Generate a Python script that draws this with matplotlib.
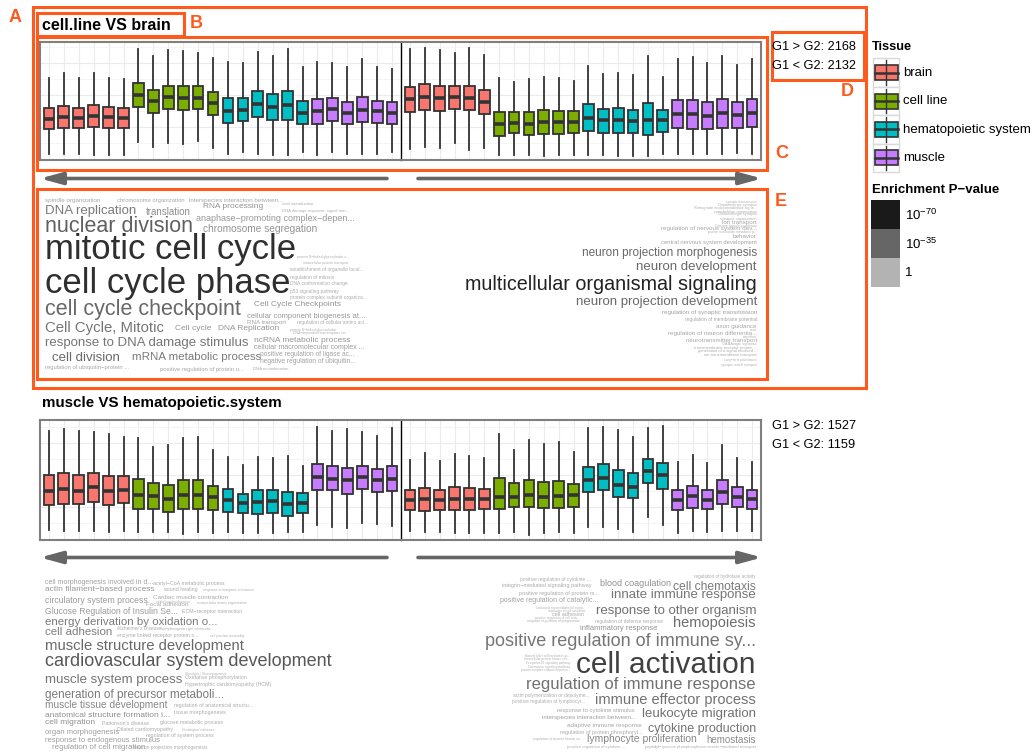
import matplotlib.pyplot as plt
from matplotlib.patches import Rectangle
from matplotlib.colors import LinearSegmentedColormap

plt.rcParams['font.family'] = ['Liberation Sans', 'DejaVu Sans']
plt.rcParams['mathtext.fontset'] = 'custom'
plt.rcParams['mathtext.rm'] = 'Liberation Sans'

# ---- data -------------------------------------------------------------
TISSUES = ['brain', 'cell line', 'hematopoietic system', 'muscle']
TISSUE_COLORS = ['#F8766D', '#7CAE00', '#00BFC4', '#C77CFF']
SAMPLES_PER_TISSUE = 6

# box stats per sample: (whisker low, q1, median, q3, whisker high)
CL_BRAIN_UP = [
    (0.6, 3.1, 4.1, 5.2, 8.2), (0.6, 3.2, 4.3, 5.4, 8.7), (0.6, 3.2, 4.2, 5.2, 8.2),
    (0.5, 3.3, 4.4, 5.5, 8.7), (0.5, 3.2, 4.3, 5.3, 8.2), (0.5, 3.2, 4.2, 5.2, 8.1),
    (1.8, 5.3, 6.5, 7.7, 11.1), (1.3, 4.7, 5.9, 7.0, 10.4), (1.7, 5.1, 6.3, 7.4, 11.0),
    (1.6, 5.0, 6.2, 7.4, 10.9), (1.9, 5.1, 6.2, 7.4, 10.7), (1.2, 4.5, 5.7, 6.8, 10.2),
    (0.6, 3.7, 4.9, 6.2, 9.8), (0.8, 3.9, 5.0, 6.2, 9.7), (0.6, 4.3, 5.6, 6.9, 10.8),
    (0.5, 4.0, 5.3, 6.6, 10.4), (0.5, 4.0, 5.5, 6.9, 11.1), (0.8, 3.6, 4.7, 5.9, 9.3),
    (0.5, 3.6, 4.9, 6.1, 9.8), (0.8, 3.9, 5.1, 6.2, 9.7), (0.6, 3.6, 4.7, 5.8, 9.3),
    (0.6, 3.8, 5.0, 6.3, 10.1), (0.6, 3.7, 4.9, 5.9, 9.3), (0.8, 3.6, 4.7, 5.8, 9.1),
]
CL_BRAIN_DOWN = [
    (1.1, 4.8, 6.1, 7.3, 11.1), (1.3, 5.0, 6.3, 7.6, 11.2), (1.2, 4.9, 6.2, 7.4, 11.0),
    (1.7, 5.1, 6.3, 7.4, 10.7), (1.0, 5.0, 6.2, 7.4, 11.2), (1.2, 4.6, 5.8, 7.0, 10.5),
    (0.5, 2.4, 3.6, 4.8, 8.2), (0.5, 2.7, 3.7, 4.8, 7.8), (0.5, 2.5, 3.6, 4.8, 8.1),
    (0.4, 2.6, 3.8, 5.0, 8.3), (0.5, 2.6, 3.8, 4.9, 8.2), (0.5, 2.7, 3.8, 4.9, 7.9),
    (0.5, 2.9, 4.2, 5.6, 9.4), (0.5, 2.7, 4.0, 5.1, 8.6), (0.4, 2.7, 4.0, 5.2, 8.7),
    (0.4, 2.7, 3.9, 5.0, 8.5), (0.4, 2.5, 4.0, 5.7, 10.4), (0.6, 2.8, 4.0, 5.0, 8.3),
    (0.6, 3.2, 4.6, 6.0, 10.1), (0.6, 3.1, 4.6, 6.0, 10.3), (0.6, 3.1, 4.4, 5.8, 9.7),
    (0.6, 3.2, 4.7, 6.1, 10.4), (0.7, 3.2, 4.5, 5.8, 9.5), (0.6, 3.3, 4.7, 6.1, 10.1),
]
MU_HEMA_UP = [
    (1.0, 3.5, 4.9, 6.5, 10.9), (0.9, 3.6, 5.1, 6.7, 11.1), (0.9, 3.6, 4.9, 6.5, 10.9),
    (0.9, 3.8, 5.3, 6.7, 10.8), (0.8, 3.5, 4.9, 6.4, 10.6), (0.9, 3.7, 5.0, 6.4, 10.3),
    (0.8, 3.1, 4.5, 6.1, 10.2), (0.8, 3.1, 4.4, 5.7, 9.3), (0.8, 2.8, 4.1, 5.5, 9.5),
    (0.6, 3.1, 4.5, 6.0, 10.2), (0.8, 3.1, 4.5, 6.0, 10.3), (0.7, 3.0, 4.3, 5.4, 9.0),
    (0.8, 2.8, 4.0, 5.1, 8.3), (0.7, 2.7, 3.7, 4.6, 7.5), (0.7, 2.6, 3.8, 5.0, 8.3),
    (0.7, 2.7, 3.9, 5.0, 8.2), (0.8, 2.4, 3.6, 4.8, 8.4), (0.8, 2.7, 3.7, 4.7, 7.4),
    (1.5, 5.0, 6.3, 7.6, 11.3), (1.3, 5.0, 6.1, 7.4, 10.9), (1.2, 4.6, 6.0, 7.2, 11.1),
    (1.7, 5.1, 6.3, 7.4, 10.8), (1.6, 4.8, 6.0, 7.1, 10.4), (1.4, 4.9, 6.1, 7.4, 11.2),
]
MU_HEMA_DOWN = [
    (0.9, 3.0, 4.0, 5.0, 8.0), (0.8, 2.9, 4.1, 5.2, 8.7), (0.8, 3.0, 4.0, 5.0, 7.9),
    (0.7, 3.0, 4.1, 5.3, 8.6), (0.7, 3.0, 4.1, 5.2, 8.4), (0.7, 3.1, 4.1, 5.1, 8.2),
    (0.7, 3.1, 4.3, 6.2, 10.6), (0.8, 3.3, 4.3, 5.7, 9.0), (0.5, 3.3, 4.5, 6.0, 10.0),
    (0.7, 3.2, 4.3, 5.8, 9.6), (0.8, 3.2, 4.4, 5.9, 9.8), (0.7, 3.3, 4.5, 5.6, 8.8),
    (1.3, 4.8, 6.0, 7.3, 11.2), (1.3, 5.0, 6.2, 7.6, 11.3), (1.1, 4.3, 5.5, 7.0, 11.0),
    (0.8, 4.2, 5.3, 6.7, 10.3), (2.3, 5.7, 6.9, 8.1, 11.2), (1.5, 5.1, 6.5, 7.7, 11.4),
    (0.7, 3.0, 4.0, 5.0, 7.8), (0.9, 3.2, 4.4, 5.4, 8.5), (0.8, 3.1, 4.0, 5.0, 7.7),
    (0.9, 3.6, 4.8, 6.0, 9.5), (0.9, 3.3, 4.3, 5.3, 8.2), (0.9, 3.1, 4.1, 5.0, 7.8),
]

COMPARISONS = ['cell.line VS brain', 'muscle VS hematopoietic.system']
N_UP = [2168, 1527]
N_DOWN = [2132, 1159]

# word clouds: term, gene count (font size), -log10 enrichment p-value
TL_TERMS = ["spindle organization", "chromosome organization", "interspecies interaction between...",
            "viral reproduction", "RNA processing", "DNA replication", "translation",
            "DNA damage response, signal tran...", "anaphase−promoting complex−depen...",
            "nuclear division", "chromosome segregation", "mitotic cell cycle",
            "protein N−linked glycosylation v...", "intracellular protein transport",
            "establishment of organelle local...", "regulation of mitosis", "cell cycle phase",
            "DNA conformation change", "p53 signaling pathway", "protein complex subunit organiza...",
            "Cell Cycle Checkpoints", "cell cycle checkpoint", "cellular component biogenesis at...",
            "RNA transport", "regulation of cellular amino aci...", "Cell Cycle, Mitotic", "Cell cycle",
            "DNA Replication", "protein N−linked glycosylation", "DNA−dependent transcription, ter...",
            "ncRNA metabolic process", "response to DNA damage stimulus",
            "cellular macromolecular complex ...", "positive regulation of ligase ac...",
            "mRNA metabolic process", "cell division", "negative regulation of ubiquitin...",
            "regulation of ubiquitin−protein ...", "positive regulation of protein u...",
            "DNA recombination"]
TL_GENES = [18, 17, 18, 12, 24, 38, 28, 12, 26, 62, 29, 100, 10, 10, 14, 14, 100, 14, 14, 14,
            24, 62, 22, 18, 14, 43, 24, 24, 10, 10, 24, 38, 20, 19, 33, 38, 19, 17, 17, 12]
TL_NLOGP = [5, 5, 5, 3, 14, 26, 18, 3, 12, 38, 14, 60, 2, 2, 3, 3, 60, 3, 3, 3,
            14, 34, 12, 6, 3, 28, 14, 14, 2, 2, 14, 28, 10, 8, 26, 34, 8, 6, 6, 3]

TR_TERMS = ["synaptic transmission", "Dopaminergic synapse", "Retrograde endocannabinoid signa...",
            "cytoskeleton organization", "Glutamatergic synapse", "synapse organization",
            "ion transport", "Calcium signaling pathway", "regulation of nervous system dev...",
            "purine nucleotide metabolic p...", "behavior", "central nervous system development",
            "neuron projection morphogenesis", "neuron development",
            "multicellular organismal signaling", "neuron projection development",
            "regulation of synaptic transmission", "regulation of membrane potential",
            "axon guidance", "taxis", "regulation of neuron differentia...", "cognition",
            "neurotransmitter transport", "GABAergic synapse", "transmembrane receptor protein ...",
            "generation of a signal involved ...", "ion transmembrane transport",
            "Long−term potentiation", "synaptic vesicle transport"]
TR_GENES = [9, 11, 11, 11, 11, 11, 18, 10, 18, 10, 18, 17, 34, 38, 57, 38, 18, 14, 18, 10,
            18, 10, 18, 11, 12, 12, 12, 9, 9]
TR_NLOGP = [1, 2, 2, 2, 2, 2, 6, 2, 6, 2, 6, 6, 34, 34, 66, 34, 8, 5, 6, 2,
            6, 2, 6, 2, 3, 3, 3, 1, 1]

BL_TERMS = ["cell morphogenesis involved in d...", "acetyl−CoA metabolic process",
            "actin filament−based process", "wound healing", "response to inorganic substance",
            "Cardiac muscle contraction", "circulatory system process", "epithelium development",
            "Focal adhesion", "extracellular matrix organization", "Glucose Regulation of Insulin Se...",
            "ECM−receptor interaction", "energy derivation by oxidation o...", "cell adhesion",
            "Alzheimer's Disease", "arrhythmogenic right ventricular...",
            "enzyme linked receptor protein s...", "cell junction assembly",
            "muscle structure development", "cardiovascular system development",
            "muscle system process", "Glycolysis / Gluconeogenesis", "Oxidative phosphorylation",
            "Hypertrophic cardiomyopathy (HCM)", "generation of precursor metaboli...",
            "muscle tissue development", "regulation of anatomical structu...",
            "tissue morphogenesis", "anatomical structure formation i...", "cell migration",
            "Parkinson's disease", "glucose metabolic process", "Dilated cardiomyopathy",
            "Huntington's disease", "organ morphogenesis", "regulation of system process",
            "response to endogenous stimulus", "regulation of cell migration",
            "neuron projection morphogenesis"]
BL_GENES = [20, 15, 24, 15, 10, 18, 25, 9, 18, 10, 25, 15, 33, 33, 14, 10, 15, 10,
            43, 52, 38, 9, 15, 15, 34, 29, 15, 15, 24, 24, 15, 15, 15, 10, 22, 15, 22, 23, 14]
BL_NLOGP = [8, 4, 12, 4, 2, 5, 12, 2, 5, 2, 12, 4, 26, 24, 4, 2, 4, 2,
            34, 42, 28, 2, 4, 4, 26, 20, 4, 4, 16, 16, 4, 4, 4, 2, 10, 4, 10, 10, 3]

BR_TERMS = ["positive regulation of cytokine ...", "integrin−mediated signaling pathway",
            "positive regulation of protein m...", "positive regulation of catalytic...",
            "Leukocyte transendothelial migra...", "regulation of cell activation", "cell adhesion",
            "positive regulation of cell activ...", "negative regulation of programme...",
            "regulation of defense response", "inflammatory response", "blood coagulation",
            "regulation of hydrolase activity", "cell chemotaxis", "innate immune response",
            "response to other organism", "hemopoiesis", "positive regulation of immune sy...",
            "Natural killer cell mediated cyt...", "Intracellular protein kinase cas...",
            "Fc epsilon RI signaling pathway", "Chemokine signaling pathway",
            "protein complex subunit organiza...", "cell activation", "regulation of immune response",
            "actin polymerization or depolyme...", "positive regulation of lymphocyt...",
            "immune effector process", "response to cytokine stimulus",
            "interspecies interaction between...", "leukocyte migration", "adaptive immune response",
            "cytokine production", "regulation of protein phosphoryl...",
            "regulation of protein kinase ac...", "lymphocyte proliferation", "hemostasis",
            "positive regulation of cytokine ...", "peptidyl−tyrosine phosphorylation",
            "vesicle−mediated transport"]
BR_GENES = [14, 16, 16, 20, 9, 9, 16, 9, 10, 14, 22, 26, 13, 35, 38, 38, 42, 52,
            9, 9, 9, 9, 9, 86, 48, 14, 14, 42, 17, 18, 38, 18, 36, 16, 10, 30, 28, 12, 12, 12]
BR_NLOGP = [3, 4, 4, 8, 1, 1, 4, 1, 2, 3, 14, 16, 3, 26, 28, 30, 32, 28,
            1, 1, 1, 1, 1, 52, 30, 3, 3, 30, 6, 8, 30, 6, 28, 4, 2, 20, 18, 2, 2, 2]

# ---- layout (pixel coordinates of the 1035 x 754 canvas) ---------------
W, H = 1035, 754
ORANGE = '#ff5a1e'
EDGE = '#333333'

TL_PLACE = [(45, 200.7), (117, 200.7), (189, 200.7), (282, 204), (203, 206.5), (45, 210.7),
            (146, 211.7), (282, 211), (196, 218.3), (45, 226), (203, 229), (45, 250),
            (297, 256.7), (303, 263), (290, 270), (290, 277), (45, 283), (290, 284),
            (290, 291), (290, 297.7), (254, 305), (45, 310), (247, 316), (247, 322.7),
            (297, 322.7), (45, 328), (175, 329), (218, 329), (290, 329.5), (293, 333),
            (254, 340.7), (45, 343), (254, 347.3), (260, 354.3), (132, 356.7), (52, 357.7),
            (260, 361.7), (45, 367.3), (160, 369), (253, 369)]
TR_PLACE = [(757, 201.7), (757, 205), (757, 207.9), (757, 211.7), (757, 214.5), (757, 219),
            (757, 222.3), (757, 225.7), (757, 228.5), (757, 232.3), (757, 236),
            (757, 242.3), (757, 253.3), (757, 266.7), (757, 284.3), (757, 301.7),
            (757, 312.7), (757, 319), (757, 326.7), (757, 330), (757, 333.3), (757, 337),
            (757, 340.7), (757, 344), (757, 347.7), (757, 351), (757, 355), (757, 360),
            (757, 365)]
BL_PLACE = [(45, 582.7), (153, 583.3), (45, 589.3), (163, 590), (203, 590), (153, 597.3),
            (45, 600.7), (156, 601.5), (146, 604.5), (197, 603), (45, 611), (182, 611),
            (45, 621.7), (45, 631.7), (117, 629), (161, 629), (117, 635), (210, 635.7),
            (45, 645.7), (45, 661), (45, 680), (185, 674), (185, 677.8), (185, 684.3),
            (45, 695), (45, 705), (174, 705), (174, 712.3), (45, 715.3), (45, 722.8),
            (102, 723.3), (160, 722.3), (117, 729.3), (182, 730), (45, 732.7),
            (146, 736), (45, 740), (52, 747.3), (134, 747.3)]
BR_PLACE = [(591, 579.3, 'right'), (592, 586, 'right'), (599, 593.3, 'right'),
            (598, 600.7, 'right'), (585, 607.7, 'right'), (585, 611, 'right'),
            (584, 615, 'right'), (580, 617.5, 'right'), (583, 620.7, 'right'),
            (595, 621.7, 'left'), (657, 628.3, 'right'), (600, 583.3, 'left'),
            (756, 576.8, 'right'), (756, 587.2, 'right'), (756, 595, 'right'),
            (756, 610.7, 'right'), (756, 623.3, 'right'), (756, 641, 'right'),
            (570, 655.7, 'right'), (570, 659.3, 'right'), (570, 662.7, 'right'),
            (570, 666.7, 'right'), (570, 670, 'right'), (756, 665.3, 'right'),
            (756, 684, 'right'), (590, 695, 'right'), (585, 701, 'right'),
            (756, 700, 'right'), (635, 710.5, 'right'), (636, 717, 'right'),
            (756, 714.3, 'right'), (642, 725, 'right'), (756, 729.3, 'right'),
            (642, 732.5, 'right'), (583, 739, 'right'), (697, 739.3, 'right'),
            (756, 740, 'right'), (567, 746.7, 'left'), (645, 746.7, 'left'),
            (756, 746.7, 'right')]

pcmap = LinearSegmentedColormap.from_list('pval', ['#b3b3b3', '#666666', '#1a1a1a'])

fig = plt.figure(figsize=(W / 100, H / 100), dpi=100)


def px_axes(x0, y0, x1, y1):
    return fig.add_axes([x0 / W, 1 - y1 / H, (x1 - x0) / W, (y1 - y0) / H])


def draw_facet(ax, stats, ymax, side):
    n = len(stats)
    pos = list(range(1, n + 1))
    bx = [dict(whislo=s[0], q1=s[1], med=s[2], q3=s[3], whishi=s[4], fliers=[]) for s in stats]
    art = ax.bxp(bx, positions=pos, widths=0.72, patch_artist=True,
                 showcaps=False, showfliers=False,
                 boxprops=dict(edgecolor=EDGE, linewidth=1.3),
                 medianprops=dict(color=EDGE, linewidth=2.6, solid_capstyle='butt'),
                 whiskerprops=dict(color=EDGE, linewidth=1.3))
    for i, patch in enumerate(art['boxes']):
        patch.set_facecolor(TISSUE_COLORS[i // SAMPLES_PER_TISSUE])
    ax.set_xlim(0.4, n + 0.6)
    ax.set_ylim(0, ymax)
    ax.set_xticks(pos)
    ax.set_yticks([3.3, 6.5, 9.7])
    ax.set_yticks([1.7, 4.9, 8.1, 11.3], minor=True)
    ax.set_xticklabels([])
    ax.set_yticklabels([])
    ax.tick_params(which='both', length=0)
    ax.grid(True, which='major', color='#ebebeb', linewidth=0.8)
    ax.grid(True, which='minor', axis='y', color='#f4f4f4', linewidth=0.6)
    ax.set_axisbelow(True)
    for sp in ax.spines.values():
        sp.set_color('#7f7f7f')
        sp.set_linewidth(1.5)
    if side == 'left':
        ax.spines['right'].set_visible(False)
    else:
        ax.spines['left'].set_color('black')
        ax.spines['left'].set_linewidth(1.0)


# box plot panels
for stats, box, side in [(CL_BRAIN_UP, (40, 42, 401, 160), 'left'),
                         (CL_BRAIN_DOWN, (401, 42, 761, 160), 'right'),
                         (MU_HEMA_UP, (40, 420, 401, 540), 'left'),
                         (MU_HEMA_DOWN, (401, 420, 761, 540), 'right')]:
    ax = px_axes(*box)
    draw_facet(ax, stats, (box[3] - box[1]) / 10, side)

# overlay for text, clouds, arrows and legend
ov = fig.add_axes([0, 0, 1, 1], zorder=5)
ov.set_xlim(0, W)
ov.set_ylim(H, 0)
ov.axis('off')
ov.patch.set_alpha(0)

for title, ty, fs in zip(COMPARISONS, [25, 403], [11.5, 10.9]):
    ov.text(42, ty, title, fontsize=fs, fontweight='bold', va='center', ha='left')

for up, down, ty in zip(N_UP, N_DOWN, [46.7, 426]):
    ov.text(772, ty, f'G1 > G2: {up}', fontsize=9.2, va='center')
    ov.text(772, ty + 19.5, f'G1 < G2: {down}', fontsize=9.2, va='center')

for ay in [178.5, 557.5]:
    for x_from, x_to in [(387, 40), (418, 762)]:
        ov.annotate('', xy=(x_to, ay), xytext=(x_from, ay),
                    arrowprops=dict(arrowstyle='-|>,head_length=1.1,head_width=0.3',
                                    color='#666666', lw=2.6, shrinkA=0, shrinkB=0,
                                    mutation_scale=12))


def draw_cloud(terms, genes, nlogp, place, default_ha):
    for t, g, p, pl in zip(terms, genes, nlogp, place):
        ha = pl[2] if len(pl) > 2 else default_ha
        ov.text(pl[0], pl[1], t, fontsize=g / 4, color=pcmap(min(p, 70) / 70),
                ha=ha, va='center')


draw_cloud(TL_TERMS, TL_GENES, TL_NLOGP, TL_PLACE, 'left')
draw_cloud(TR_TERMS, TR_GENES, TR_NLOGP, TR_PLACE, 'right')
draw_cloud(BL_TERMS, BL_GENES, BL_NLOGP, BL_PLACE, 'left')
draw_cloud(BR_TERMS, BR_GENES, BR_NLOGP, BR_PLACE, 'right')

# tissue legend
ov.text(872, 46.7, 'Tissue', fontsize=9.2, fontweight='bold', va='center')
for i, (name, col) in enumerate(zip(TISSUES, TISSUE_COLORS)):
    top = 58.3 + 28.4 * i
    ov.add_patch(Rectangle((872.7, top), 26.6, 28.4, facecolor='white',
                           edgecolor='#d9d9d9', lw=1))
    cx = 886
    ov.plot([cx, cx], [top + 2, top + 26.4], color=EDGE, lw=1)
    ov.add_patch(Rectangle((874.5, top + 6.8), 23, 15, facecolor=col, edgecolor=EDGE, lw=1.2))
    ov.plot([874.5, 897.5], [top + 14.2, top + 14.2], color=EDGE, lw=1.8)
    ov.text(903, top + 14.5, name, fontsize=9.5, va='center')

# enrichment p-value legend
ov.text(872, 190, 'Enrichment P−value', fontsize=9.5, fontweight='bold', va='center')
for j, (pv, lab) in enumerate(zip([70, 35, 0],
                                  [r'$\mathregular{10^{-70}}$', r'$\mathregular{10^{-35}}$', '1'])):
    top = 200 + 29 * j
    ov.add_patch(Rectangle((871, top), 29, 29, facecolor=pcmap(pv / 70), edgecolor='none'))
    ov.text(905, top + 15.5, lab, fontsize=9.5, va='center')

# orange annotation frames
for x0, y0, x1, y1 in [(33, 7, 866, 388), (37, 13, 184, 36), (37, 37, 767, 170),
                       (772, 32, 864, 80), (37, 189, 767, 379)]:
    ov.add_patch(Rectangle((x0, y0), x1 - x0, y1 - y0, fill=False, edgecolor=ORANGE, lw=2.2))
for lab, lx, ly in [('A', 15, 17), ('B', 196, 24), ('C', 782, 154), ('D', 847, 92), ('E', 781, 202)]:
    ov.text(lx, ly, lab, fontsize=13, fontweight='bold', color=ORANGE, ha='center', va='center')

fig.savefig('out.png', dpi=100)
